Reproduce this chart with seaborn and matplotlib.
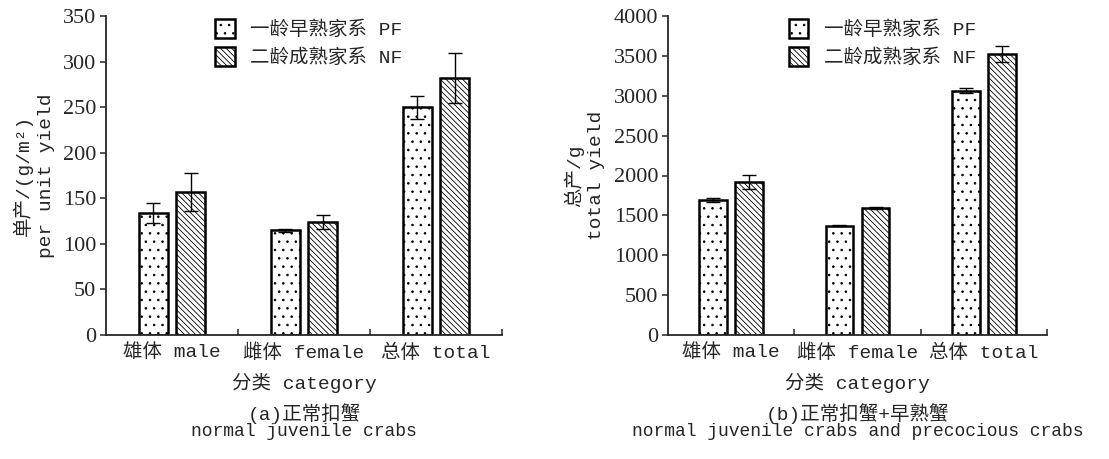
import numpy as np
import pandas as pd
import matplotlib
matplotlib.use("Agg")
import matplotlib.pyplot as plt
from matplotlib.container import BarContainer
import seaborn as sns

# Categories and groups
categories = ["雄体 male", "雌体 female", "总体 total"]
groups = ["一龄早熟家系 PF", "二龄成熟家系 NF"]

# (a) per unit yield, g/m2
unit_pf = [134, 115, 250]
unit_pf_err = [11, 1.5, 12.5]
unit_nf = [157, 124, 282]
unit_nf_err = [21, 8, 27]

# (b) total yield, g
total_pf = [1695, 1372, 3065]
total_pf_err = [25, 5, 28]
total_nf = [1920, 1592, 3525]
total_nf_err = [85, 15, 105]

sns.set_theme(style="ticks")
plt.rcParams["font.family"] = ["Liberation Mono", "Noto Sans CJK SC"]
plt.rcParams["hatch.linewidth"] = 0.6
plt.rcParams["axes.linewidth"] = 1.3

MIX = ["Liberation Mono", "Noto Sans CJK SC"]
NUM = ["Liberation Serif"]
hatches = ["..", "\\\\\\\\\\\\"]

fig = plt.figure(figsize=(11.09, 4.59), dpi=100)
W, H = 1109, 459
ax_a = fig.add_axes([106 / W, 1 - 335 / H, 396 / W, 319 / H])
ax_b = fig.add_axes([668 / W, 1 - 335 / H, 379 / W, 319 / H])


def draw_panel(ax, pf, pf_err, nf, nf_err, ymax, ystep, ylabel, cap1, cap2, legend_x):
    df = pd.DataFrame({
        "category": categories * 2,
        "group": [groups[0]] * 3 + [groups[1]] * 3,
        "value": list(pf) + list(nf),
    })
    sns.barplot(data=df, x="category", y="value", hue="group", order=categories,
                hue_order=groups, palette=["white", "white"], width=0.572, gap=0.23,
                edgecolor="black", linewidth=1.8, errorbar=None, legend=False,
                saturation=1, ax=ax)
    bar_sets = [c for c in ax.containers if isinstance(c, BarContainer)]
    errs = [pf_err, nf_err]
    vals = [pf, nf]
    for k, cont in enumerate(bar_sets):
        xs = []
        for bar in cont.patches:
            bar.set_hatch(hatches[k])
            xs.append(bar.get_x() + bar.get_width() / 2)
        ax.errorbar(xs, vals[k], yerr=errs[k], fmt="none", ecolor="black",
                    elinewidth=1.0, capsize=5, capthick=1.0, zorder=5)

    ax.set_xlim(-0.5, 2.5)
    ax.set_ylim(0, ymax)
    ticks = np.arange(0, ymax + 1, ystep)
    ax.set_yticks(ticks)
    ax.set_yticklabels([f"{int(v)}" for v in ticks], family=NUM, fontsize=16)
    ax.set_xticks(range(3))
    ax.set_xticklabels(categories, family=MIX, fontsize=14)
    ax.tick_params(axis="x", length=0, pad=6)
    ax.tick_params(axis="y", direction="out", length=4, width=1.1, pad=3)
    ax.set_xticks([0.5, 1.5, 2.5], minor=True)
    ax.tick_params(axis="x", which="minor", direction="in", length=4, width=1.1)
    sns.despine(ax=ax)

    ax.set_xlabel("分类 category", family=MIX, fontsize=14, labelpad=8)
    ax.set_ylabel(ylabel, family=MIX, fontsize=14, labelpad=6, linespacing=1.35)

    handles = [cont.patches[0] for cont in bar_sets]
    ax.legend(handles, groups, loc="upper left", bbox_to_anchor=(legend_x, 1.045),
              frameon=False, prop={"family": MIX, "size": 14}, handlelength=1.0,
              handleheight=1.1, handletextpad=0.8, labelspacing=0.4)

    ax.text(0.5, -0.215, cap1, transform=ax.transAxes, ha="center", va="top",
            family=MIX, fontsize=14)
    ax.text(0.5, -0.275, cap2, transform=ax.transAxes, ha="center", va="top",
            family=MIX, fontsize=13)


draw_panel(ax_a, unit_pf, unit_pf_err, unit_nf, unit_nf_err, 350, 50,
           "单产/(g/m²)\nper unit yield", "(a)正常扣蟹", "normal juvenile crabs", 0.232)
draw_panel(ax_b, total_pf, total_pf_err, total_nf, total_nf_err, 4000, 500,
           "总产/g\ntotal yield", "(b)正常扣蟹+早熟蟹",
           "normal juvenile crabs and precocious crabs", 0.272)

fig.savefig("out.png", dpi=100)
